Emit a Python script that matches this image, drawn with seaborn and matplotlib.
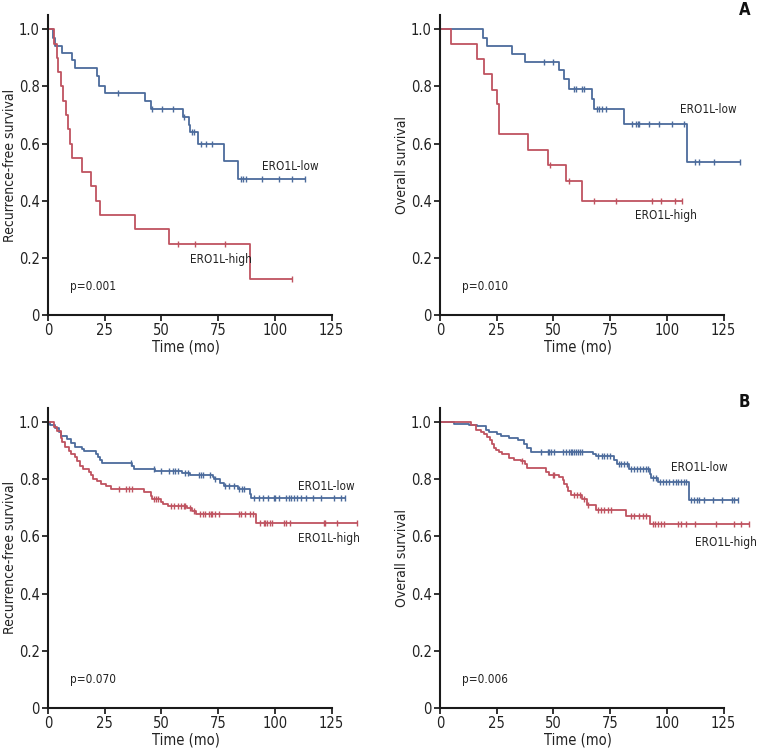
import numpy as np
import pandas as pd
import matplotlib
matplotlib.use('Agg')
import matplotlib.pyplot as plt
import matplotlib.font_manager as fm
import seaborn as sns

sns.set_style('ticks')

# look for a narrow sans face; fall back to Roboto (the narrowest of the usual ones)
narrow = [f for f in fm.fontManager.ttflist
          if ('Narrow' in f.name or 'Condensed' in f.name or str(f.stretch) in ('condensed', 'semi-condensed'))
          and 'Mono' not in f.name and 'Serif' not in f.name]
if narrow:
    base_font = narrow[0].name
    STRETCH = narrow[0].stretch
    SCALE = 1.0
else:
    base_font = 'Roboto'
    STRETCH = 'normal'
    SCALE = 0.9
plt.rcParams['font.family'] = [base_font, 'DejaVu Sans']
plt.rcParams['font.stretch'] = STRETCH

BLUE = '#4c6b9c'
RED = '#bf5360'

# ---- Panel A, recurrence-free survival ----
a_rfs_low_t = [2.3, 3.2, 6.2, 10.4, 11.7, 21.4, 22.3, 25.1, 42.7, 45.6, 59.3, 62.2, 62.5, 66.2, 77.5, 83.8]
a_rfs_low_s = [0.971, 0.943, 0.917, 0.891, 0.864, 0.836, 0.80, 0.776, 0.748, 0.72, 0.692, 0.666, 0.64, 0.60, 0.538, 0.477]
a_rfs_low_c = [30.9, 45.9, 50.2, 55.3, 60.0, 63.7, 64.4, 67.6, 69.8, 72.3, 84.9, 86.0, 87.1, 94.3, 101.7, 107.5, 113.4]
a_rfs_high_t = [2.8, 4.1, 4.5, 5.7, 6.75, 7.8, 8.9, 9.7, 10.4, 14.8, 18.8, 21.0, 22.9, 38.3, 53.4, 89.1]
a_rfs_high_s = [0.95, 0.90, 0.85, 0.80, 0.75, 0.70, 0.65, 0.60, 0.55, 0.50, 0.45, 0.40, 0.35, 0.30, 0.25, 0.125]
a_rfs_high_c = [57.4, 65.0, 77.9, 107.5]

# ---- Panel A, overall survival ----
a_os_low_t = [19.0, 20.5, 31.9, 37.4, 52.6, 54.8, 56.7, 66.8, 67.7, 81.0, 109.0]
a_os_low_s = [0.971, 0.943, 0.914, 0.886, 0.857, 0.825, 0.792, 0.757, 0.72, 0.669, 0.535]
a_os_low_c = [45.9, 49.6, 59.2, 59.9, 62.4, 63.6, 69.2, 69.9, 71.2, 73.2, 84.5, 86.4, 87.1,
              87.9, 92.3, 96.7, 102.3, 107.5, 112.5, 114.0, 120.6, 132.1]
a_os_high_t = [5.0, 16.2, 19.4, 22.8, 25.3, 26.1, 38.9, 47.7, 55.5, 62.4]
a_os_high_s = [0.947, 0.895, 0.842, 0.789, 0.737, 0.632, 0.579, 0.526, 0.47, 0.40]
a_os_high_c = [48.6, 56.8, 67.7, 77.6, 93.3, 97.2, 103.8, 106.8]

# ---- Panel B, recurrence-free survival ----
b_rfs_low_t = [1.0, 3.2, 5.0, 5.6, 8.4, 10.2, 11.7, 15.0, 16.0, 21.0, 22.0, 22.9, 23.9, 37.2, 37.9,
               47.1, 59.0, 62.7, 72.6, 73.3, 75.9, 77.4, 83.6, 88.9, 89.4]
b_rfs_low_s = [0.99, 0.98, 0.965, 0.95, 0.94, 0.927, 0.913, 0.905, 0.897, 0.888, 0.876, 0.866, 0.857,
               0.845, 0.836, 0.83, 0.823, 0.816, 0.808, 0.80, 0.787, 0.775, 0.764, 0.75, 0.735]
b_rfs_low_c = [36.4, 46.8, 49.7, 53.4, 54.9, 55.9, 57.1, 60.5, 61.9, 66.4, 67.4, 68.3, 71.5, 73.7,
               77.9, 79.6, 81.8, 84.0, 85.5, 86.2, 90.6, 92.9, 94.8, 96.8, 99.5, 100.2, 101.7, 105.1,
               106.1, 107.3, 108.3, 109.8, 111.5, 113.7, 116.8, 120.4, 125.9, 129.2, 131.1]
b_rfs_high_t = [2.5, 4.0, 5.8, 6.2, 7.7, 9.1, 10.3, 12.1, 12.8, 13.9, 15.3, 18.0, 19.0, 19.9, 21.7,
                23.2, 25.4, 27.6, 42.3, 45.3, 46.0, 49.7, 50.9, 52.7, 61.2, 63.4, 65.3, 91.8]
b_rfs_high_s = [0.983, 0.97, 0.945, 0.93, 0.913, 0.90, 0.889, 0.877, 0.862, 0.845, 0.835, 0.825, 0.813,
                0.80, 0.792, 0.783, 0.775, 0.767, 0.755, 0.742, 0.73, 0.722, 0.714, 0.706, 0.698, 0.69,
                0.677, 0.646]
b_rfs_high_c = [31.3, 34.2, 35.7, 36.9, 46.8, 47.5, 48.3, 54.2, 55.7, 57.1, 58.6, 59.8, 60.5, 62.7,
                64.2, 67.1, 68.3, 69.3, 71.2, 71.8, 72.2, 73.7, 75.2, 84.0, 85.2, 87.0, 89.2, 90.4,
                93.6, 95.1, 95.8, 96.5, 98.0, 98.7, 103.9, 105.1, 106.8, 121.5, 122.3, 127.2, 136.3]

# ---- Panel B, overall survival ----
b_os_low_t = [6.2, 12.8, 16.5, 20.1, 21.6, 25.3, 26.8, 30.4, 34.4, 37.1, 38.5, 40.3, 67.65, 68.7,
              76.5, 77.9, 83.4, 92.5, 93.2, 96.2, 109.8]
b_os_low_s = [0.994, 0.99, 0.985, 0.973, 0.965, 0.959, 0.951, 0.944, 0.936, 0.922, 0.91, 0.895, 0.887,
              0.88, 0.866, 0.854, 0.837, 0.817, 0.805, 0.79, 0.726]
b_os_low_c = [44.4, 47.4, 48.1, 48.8, 50.3, 54.0, 55.4, 56.9, 57.6, 58.4, 59.1, 59.9, 60.9, 61.8,
              62.8, 69.7, 71.2, 72.1, 73.8, 75.0, 79.0, 79.7, 81.2, 82.3, 84.1, 85.6, 86.8, 88.2,
              89.3, 90.7, 91.5, 94.1, 95.1, 97.0, 98.1, 99.5, 101.0, 102.9, 104.0, 105.0, 106.2,
              107.6, 108.4, 110.6, 112.0, 113.5, 114.2, 116.4, 120.4, 124.5, 128.5, 129.7, 131.2]
b_os_high_t = [13.5, 15.7, 17.9, 19.4, 20.9, 22.1, 23.1, 23.8, 24.6, 26.0, 27.5, 30.4, 32.6, 35.6,
               37.4, 38.2, 46.6, 48.1, 52.5, 54.0, 54.7, 55.9, 56.6, 57.6, 62.8, 64.7, 68.7, 81.9, 92.5]
b_os_high_s = [0.99, 0.973, 0.965, 0.957, 0.948, 0.936, 0.924, 0.91, 0.902, 0.895, 0.887, 0.875, 0.868,
               0.864, 0.854, 0.839, 0.825, 0.814, 0.808, 0.796, 0.784, 0.773, 0.759, 0.744, 0.732,
               0.709, 0.691, 0.67, 0.645]
b_os_high_c = [36.3, 49.6, 50.3, 59.1, 60.6, 61.8, 63.5, 65.3, 69.7, 70.9, 72.4, 74.1, 75.3, 84.1,
               85.6, 87.8, 89.3, 90.7, 93.7, 94.7, 95.9, 97.3, 98.8, 104.7, 106.2, 108.4, 112.3,
               121.6, 129.4, 132.6, 136.3]

group_labels = ['ERO1L-low', 'ERO1L-high']
y_labels = ['Recurrence-free survival', 'Overall survival']
p_values = ['p=0.001', 'p=0.010', 'p=0.070', 'p=0.006']


def km_frame(t, s, c):
    # step curve from event times, carried out to the last censored case
    times = np.r_[0.0, t]
    surv = np.r_[1.0, s]
    end = max(max(c), times[-1])
    line = pd.DataFrame({'time': np.r_[times, end], 'surv': np.r_[surv, surv[-1]]})
    idx = np.searchsorted(times, c, side='right') - 1
    marks = pd.DataFrame({'time': c, 'surv': surv[idx]})
    return line, marks


def draw_panel(ax, low, high, ylabel, pval, low_xy, high_xy):
    for (t, s, c), color in [(low, BLUE), (high, RED)]:
        line, marks = km_frame(t, s, c)
        sns.lineplot(data=line, x='time', y='surv', drawstyle='steps-post', estimator=None,
                     sort=False, color=color, linewidth=1.3, ax=ax)
        sns.scatterplot(data=marks, x='time', y='surv', marker='|', s=22, linewidth=1.0,
                        color=color, ax=ax, zorder=3)
    ax.set_xlim(0, 137)
    ax.set_ylim(0, 1.05)
    ax.set_xticks([0, 25, 50, 75, 100, 125])
    ax.set_yticks([0, 0.2, 0.4, 0.6, 0.8, 1.0])
    ax.set_yticklabels(['0', '0.2', '0.4', '0.6', '0.8', '1.0'])
    sns.despine(ax=ax)
    ax.spines['bottom'].set_bounds(0, 125)
    for sp in ['left', 'bottom']:
        ax.spines[sp].set_linewidth(1.5)
        ax.spines[sp].set_color('#1a1a1a')
    ax.tick_params(direction='out', length=4, width=1.3, labelsize=10.5 * SCALE, colors='#222222', pad=2)
    ax.set_xlabel('Time (mo)', fontsize=10.5 * SCALE, color='#222222', labelpad=1)
    ax.xaxis.label.set_x(61 / 137)
    ax.set_ylabel(ylabel, fontsize=10 * SCALE, color='#222222', labelpad=1)
    ax.text(9.5, 0.1, pval, fontsize=8.5 * SCALE, color='#222222', va='center')
    ax.text(low_xy[0], low_xy[1], group_labels[0], fontsize=8.5 * SCALE, color='#222222', va='center')
    ax.text(high_xy[0], high_xy[1], group_labels[1], fontsize=8.5 * SCALE, color='#222222', va='center')


fig = plt.figure(figsize=(7.58, 7.5), dpi=100)
ax1 = fig.add_axes([0.0633, 0.58, 0.410, 0.40])
ax2 = fig.add_axes([0.5805, 0.58, 0.410, 0.40])
ax3 = fig.add_axes([0.0633, 0.056, 0.410, 0.4004])
ax4 = fig.add_axes([0.5805, 0.056, 0.410, 0.4004])

draw_panel(ax1, (a_rfs_low_t, a_rfs_low_s, a_rfs_low_c), (a_rfs_high_t, a_rfs_high_s, a_rfs_high_c),
           y_labels[0], p_values[0], (94.5, 0.52), (62.5, 0.193))
draw_panel(ax2, (a_os_low_t, a_os_low_s, a_os_low_c), (a_os_high_t, a_os_high_s, a_os_high_c),
           y_labels[1], p_values[1], (106, 0.72), (85.8, 0.347))
draw_panel(ax3, (b_rfs_low_t, b_rfs_low_s, b_rfs_low_c), (b_rfs_high_t, b_rfs_high_s, b_rfs_high_c),
           y_labels[0], p_values[2], (110.2, 0.776), (110.2, 0.593))
draw_panel(ax4, (b_os_low_t, b_os_low_s, b_os_low_c), (b_os_high_t, b_os_high_s, b_os_high_c),
           y_labels[1], p_values[3], (102, 0.84), (112.5, 0.58))

fig.text(0.99, 0.987, 'A', fontsize=12, fontweight='bold', ha='right', va='center', color='#111111')
fig.text(0.99, 0.464, 'B', fontsize=12, fontweight='bold', ha='right', va='center', color='#111111')

fig.savefig('out.png', dpi=100)
